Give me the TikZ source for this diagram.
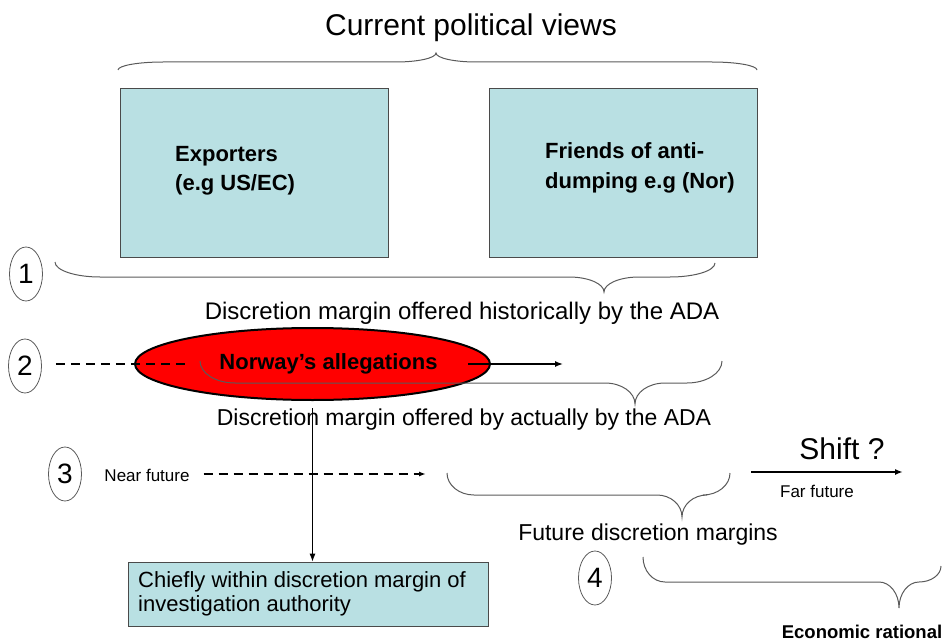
\documentclass[tikz,border=0pt]{standalone}
\usepackage{fontspec}
\setmainfont{Liberation Sans}
\usetikzlibrary{arrows.meta,shapes.geometric,calc}

\definecolor{boxfill}{HTML}{B9E0E3}
\definecolor{boxline}{HTML}{4A4A4A}
\definecolor{braceline}{HTML}{5A5A5A}

\tikzset{
  viewbox/.style={draw=boxline, line width=0.8pt, fill=boxfill, inner sep=0pt},
  stagemark/.style={ellipse, draw=braceline, line width=0.8pt, minimum width=33pt,
    minimum height=54pt, inner sep=0pt, font=\fontsize{28}{30}\selectfont},
  bracestyle/.style={draw=braceline, line width=1pt},
  dashline/.style={line width=1.8pt, dash pattern=on 9pt off 6pt},
  tip/.style={-{Latex[length=8pt,width=6pt]}},
  plain/.style={inner sep=0pt, anchor=center}
}

% Curly brace in the style of a slide drawing: #1,#2 left end; #3 level of the
% straight part; #4,#5 tip; #6,#7 right end; #8 length of the end bends;
% #9 length of the bends into the tip
\newcommand\slidebrace[9]{%
  \draw[bracestyle]
    (#1,#2) .. controls (#1,{#2+0.552*(#3-#2)}) and ({#1+0.448*#8},#3) .. ({#1+#8},#3)
    -- ({#4-#9},#3) .. controls ({#4-0.448*#9},#3) and (#4,{#5-0.552*(#5-#3)}) .. (#4,#5)
    .. controls (#4,{#5-0.552*(#5-#3)}) and ({#4+0.448*#9},#3) .. ({#4+#9},#3)
    -- ({#6-#8},#3) .. controls ({#6-0.448*#8},#3) and (#6,{#7+0.552*(#3-#7)}) .. (#6,#7);
}

\begin{document}
\begin{tikzpicture}[x=1pt, y=-1pt]
\useasboundingbox (0,0) rectangle (943,642);

% heading and the two camps
\node[plain, font=\fontsize{30}{32}\selectfont] (title) at (471,28) {Current political views};
\slidebrace{118}{70}{62}{436}{53}{757}{70}{45}{40}

\node[viewbox, minimum width=268pt, minimum height=169pt] (exp) at (254,172.5) {};
\node[viewbox, minimum width=268pt, minimum height=169pt] (fri) at (623.5,172.5) {};
\node[anchor=west, align=left, inner sep=0pt, font=\bfseries\fontsize{22}{29}\selectfont]
  (exptxt) at (175,171) {Exporters\\(e.g US/EC)};
\node[anchor=west, align=left, inner sep=0pt, font=\bfseries\fontsize{22}{30}\selectfont]
  (fritxt) at (545,168) {Friends of anti-\\dumping e.g (Nor)};

% stage 1: historical margin
\node[stagemark] (c1) at (26,274) {1};
\slidebrace{55}{262}{277}{604}{292}{715}{263}{45}{35}
\node[plain, font=\fontsize{24}{26}\selectfont] (hist) at (462,313)
  {Discretion margin offered historically by the ADA};

% stage 2: Norway's allegations
\node[ellipse, draw=black, line width=2pt, fill=red, minimum width=355pt,
  minimum height=72pt, inner sep=0pt, font=\bfseries\fontsize{22}{24}\selectfont]
  (alleg) at (312.5,364) {\hspace*{32pt}Norway’s allegations};
\node[stagemark] (c2) at (25,366) {2};
\coordinate (d2end) at (190,364);
\draw[dashline] ([xshift=14pt]c2.east |- d2end) -- (d2end);
\coordinate (a2start) at (468,364);
\coordinate (a2end) at (563,364);
\draw[tip, line width=1.4pt] (a2start) -- (a2end);
\slidebrace{200}{361}{383}{635}{404}{722}{361}{35}{30}
\node[plain, font=\fontsize{23}{25}\selectfont] (actual) at (464,420)
  {Discretion margin offered by actually by the ADA};

% where the allegations fall
\node[viewbox, minimum width=360pt, minimum height=64pt] (chief) at (308,594) {};
\node[anchor=west, align=left, inner sep=0pt, font=\fontsize{22}{24}\selectfont]
  (chieftxt) at (138,594) {Chiefly within discretion margin of\\investigation authority};
\draw[tip, line width=0.9pt] ([yshift=-7pt]alleg.south) -- (alleg.south |- chief.north);

% stage 3: near future
\node[stagemark] (c3) at (65,474) {3};
\node[plain, font=\fontsize{17}{19}\selectfont] (near) at (147,475) {Near future};
\coordinate (d3end) at (426,474);
\draw[dashline, -{Latex[length=7pt,width=5pt]}] ([xshift=14pt]near.east |- d3end) -- (d3end);
\slidebrace{447}{473}{495}{682}{517}{730}{473}{27}{25}

\node[plain, font=\fontsize{23}{25}\selectfont] (future) at (648,535) {Future discretion margins};

% far future shift
\node[plain, font=\fontsize{30}{32}\selectfont] (shift) at (842,449) {Shift ?};
\coordinate (sstart) at (751,472);
\coordinate (send) at (903,472);
\draw[tip, line width=2pt] (sstart) -- (send);
\node[plain, font=\fontsize{17}{19}\selectfont] (far) at (817,491) {Far future};

% stage 4: economic rationale
\node[stagemark] (c4) at (595,578) {4};
\slidebrace{643}{557}{582}{899}{608}{941}{566}{22}{20}
\node[plain, font=\bfseries\fontsize{18.5}{20}\selectfont] (econ) at (862,632) {Economic rational};
\end{tikzpicture}
\end{document}
